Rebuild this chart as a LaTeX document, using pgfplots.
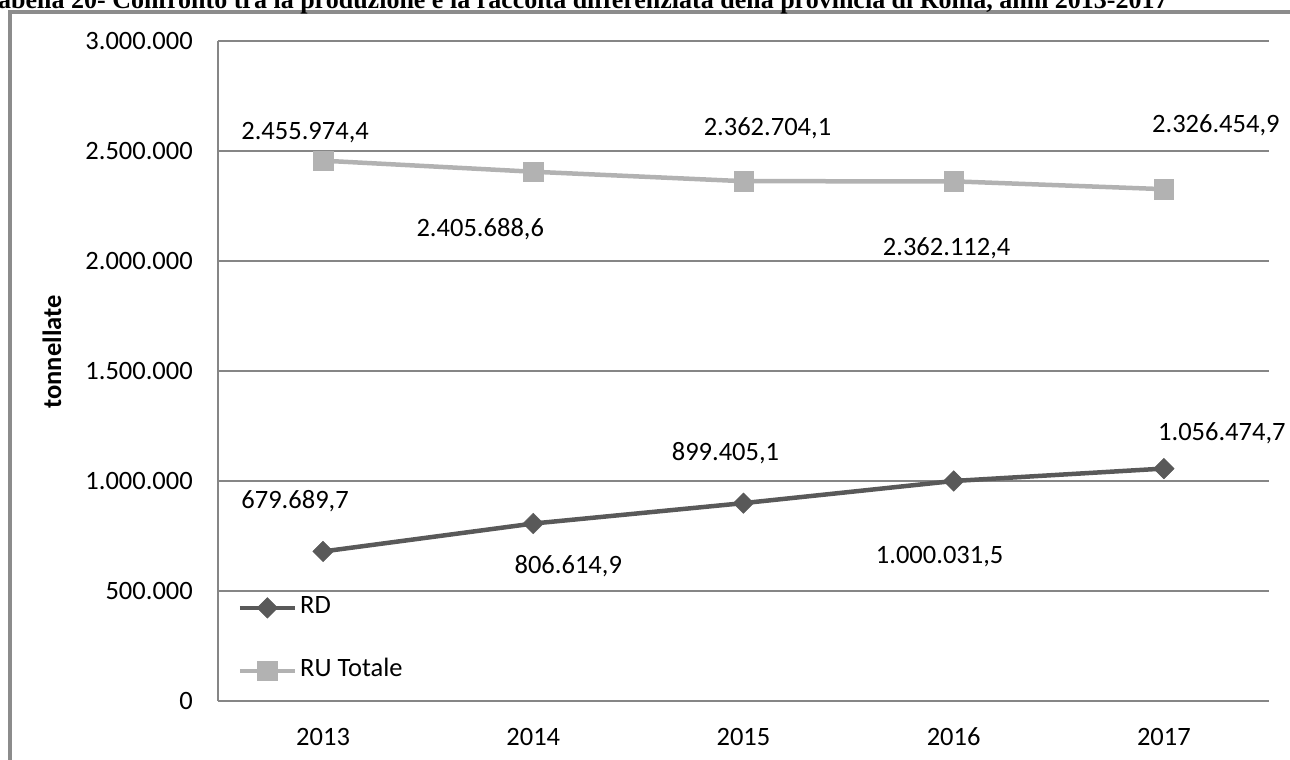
\documentclass[border=0pt]{standalone}
\usepackage{fontspec}
\setmainfont{Carlito}
\newfontfamily\titlefont{Liberation Serif}
\usepackage{pgfplots}
\pgfplotsset{compat=1.18}
\usepackage{pgfplotstable}

\definecolor{rdcol}{RGB}{89,89,89}
\definecolor{rucol}{RGB}{178,178,178}
\definecolor{gridcol}{RGB}{134,134,134}
\definecolor{framecol}{RGB}{140,140,140}

\pgfplotstableread{
x y lab dx dy
0 679689.7 679.689,7 -28 43.1
1 806614.9 806.614,9 35 -49.9
2 899405.1 899.405,1 -18 42.6
3 1000031.5 1.000.031,5 -14 -82.4
4 1056474.7 1.056.474,7 58 28.2
}\rdtab

\pgfplotstableread{
x y lab dx dy
0 2455974.4 2.455.974,4 -18 21.6
1 2405688.6 2.405.688,6 -53 -64.4
2 2362704.1 2.362.704,1 24 45.6
3 2362112.4 2.362.112,4 -7 -74.4
4 2326454.9 2.326.454,9 52 56.6
}\rutab

\newcommand{\lblfont}{\fontsize{26.5}{31}\selectfont}

\begin{document}
\begin{tikzpicture}[x=1pt,y=1pt]
\begin{axis}[
  name=ax,
  scale only axis, width=1051pt, height=660pt,
  xmin=-0.5, xmax=4.5, ymin=0, ymax=3000000,
  xtick={0,1,2,3,4}, xticklabels={2013,2014,2015,2016,2017},
  ytick={0,500000,1000000,1500000,2000000,2500000,3000000},
  scaled y ticks=false,
  yticklabel={\pgfmathprintnumber[fixed, precision=0, 1000 sep={.}, assume math mode=true]{\tick}},
  ymajorgrids, grid style={gridcol, line width=1.3pt},
  axis lines*=left, axis line style={gridcol, line width=1.3pt},
  major tick length=0pt,
  tick label style={font=\lblfont, text=black},
  yticklabel style={anchor=east, inner sep=0pt, xshift=-25pt},
  xticklabel style={anchor=base, inner sep=0pt, yshift=-44pt},
  ylabel={tonnellate},
  every axis y label/.style={at={(axis description cs:-0.158,0.5288)}, rotate=90, anchor=center, font=\bfseries\lblfont, inner sep=0pt},
  clip=false,
  legend image code/.code={\draw[#1, mark repeat=2, mark phase=2] plot coordinates {(0pt,0pt) (27.5pt,0pt) (55pt,0pt)};},
  legend style={at={(rel axis cs:0.0185,0.158)}, anchor=north west, draw=none, fill=none,
    inner sep=0pt, row sep=41pt, font=\lblfont,
    nodes={inner sep=0pt, anchor=west, text height=17pt, text depth=5pt},
    column sep=3pt},
  legend cell align=left,
]
\addplot[rdcol, line width=4.5pt, mark=square*, mark size=7.3pt,
  mark options={rotate=45, solid, line width=0.4pt},
  nodes near coords={\pgfplotspointmeta}, point meta=explicit symbolic,
  visualization depends on={\thisrow{dx} \as \lbldx},
  visualization depends on={\thisrow{dy} \as \lbldy},
  every node near coord/.append style={anchor=base, inner sep=0pt, xshift=\lbldx pt, yshift=\lbldy pt, text=black, font=\lblfont}]
  table[x=x, y=y, meta=lab] {\rdtab};
\addlegendentry{RD}
\addplot[rucol, line width=4.5pt, mark=square*, mark size=9.7pt,
  mark options={solid, line width=0.4pt},
  nodes near coords={\pgfplotspointmeta}, point meta=explicit symbolic,
  visualization depends on={\thisrow{dx} \as \lbldx},
  visualization depends on={\thisrow{dy} \as \lbldy},
  every node near coord/.append style={anchor=base, inner sep=0pt, xshift=\lbldx pt, yshift=\lbldy pt, text=black, font=\lblfont}]
  table[x=x, y=y, meta=lab] {\rutab};
\addlegendentry{RU Totale}
\coordinate (O) at (rel axis cs:0,0);
\end{axis}
\begin{scope}[shift={(O)}, xshift=-218pt, yshift=-59pt]
  \draw[framecol, line width=3.5pt] (10,-10) -- (10,748) -- (1300,748);
  \node[anchor=base west, inner sep=0pt] at (-17,751)
    {\titlefont\bfseries\fontsize{26}{30}\selectfont Tabella 20- Confronto tra la produzione e la raccolta differenziata della provincia di Roma, anni 2013-2017};
  \coordinate (BL) at (0,0);
  \coordinate (TR) at (1290,760);
\end{scope}
\pgfresetboundingbox
\useasboundingbox (BL) rectangle (TR);
\end{tikzpicture}
\end{document}
